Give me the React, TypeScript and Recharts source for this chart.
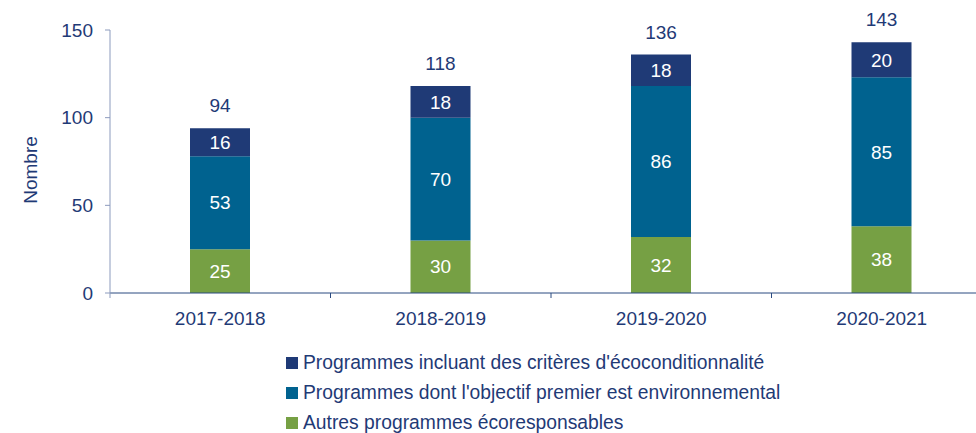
import React from "react";
import { BarChart, Bar, XAxis, YAxis, Legend, LabelList } from "recharts";

const years = ["2017-2018", "2018-2019", "2019-2020", "2020-2021"];
const autres = [25, 30, 32, 38];
const objectif = [53, 70, 86, 85];
const criteres = [16, 18, 18, 20];
const totals = [94, 118, 136, 143];
const yTicks = [0, 50, 100, 150];

const NAVY = "#1F3A76";
const TEAL = "#00628F";
const GREEN = "#76A044";
const TEXT = "#1F3A76";
const FONT = "'Liberation Sans', Arial, sans-serif";
const FS = 19;

const legendItems = [
  { label: "Programmes incluant des critères d'écoconditionnalité", color: NAVY },
  { label: "Programmes dont l'objectif premier est environnemental", color: TEAL },
  { label: "Autres programmes écoresponsables", color: GREEN },
];

const data = years.map((year, i) => ({
  year,
  autres: autres[i],
  objectif: objectif[i],
  criteres: criteres[i],
  total: totals[i],
}));

const CHART_W = 1000;
const CHART_H = 433;
const PLOT_LEFT = 110;
const PLOT_RIGHT = 8;
const HALF_BAND = (CHART_W - PLOT_LEFT - PLOT_RIGHT) / years.length / 2;

function XTick(props: any) {
  const { x, y, payload, index } = props;
  return (
    <g>
      <line x1={x + HALF_BAND} x2={x + HALF_BAND} y1={y} y2={y + 5} stroke="#2B4A80" />
      {index === 0 && (
        <line x1={x - HALF_BAND} x2={x - HALF_BAND} y1={y} y2={y + 5} stroke="#8C9BBD" />
      )}
      <text x={x} y={y + 32} textAnchor="middle" fill={TEXT} fontSize={FS} fontFamily={FONT}>
        {payload.value}
      </text>
    </g>
  );
}

function LegendContent() {
  return (
    <div style={{ fontFamily: FONT, fontSize: 19.3, color: TEXT }}>
      {legendItems.map((item) => (
        <div key={item.label} style={{ height: 30, display: "flex", alignItems: "center" }}>
          <span
            style={{
              display: "inline-block",
              width: 12,
              height: 12,
              background: item.color,
              marginRight: 5,
            }}
          />
          {item.label}
        </div>
      ))}
    </div>
  );
}

export default function App() {
  return (
    <div
      style={{
        position: "fixed",
        left: 0,
        top: 0,
        width: 976,
        height: 433,
        overflow: "hidden",
        background: "#fff",
      }}
    >
      <BarChart
        width={CHART_W}
        height={CHART_H}
        data={data}
        margin={{ top: 30, right: PLOT_RIGHT, left: 0, bottom: 20 }}
      >
        <XAxis
          dataKey="year"
          axisLine={{ stroke: "#2B4A80" }}
          tickLine={false}
          tickSize={0}
          tickMargin={0}
          height={30}
          tick={<XTick />}
          interval={0}
        />
        <YAxis
          domain={[0, 150]}
          ticks={yTicks}
          width={PLOT_LEFT}
          axisLine={{ stroke: "#8C9BBD" }}
          tickLine={{ stroke: "#8C9BBD" }}
          tickSize={5}
          tickMargin={12}
          tick={{ fill: TEXT, fontSize: FS, fontFamily: FONT }}
          label={{
            content: () => (
              <text
                x={37}
                y={170}
                transform="rotate(-90 37 170)"
                textAnchor="middle"
                fill={TEXT}
                fontSize={FS}
                fontFamily={FONT}
              >
                Nombre
              </text>
            ),
          }}
        />
        <Legend
          verticalAlign="bottom"
          content={<LegendContent />}
          wrapperStyle={{ left: 286, top: 348, width: "auto" }}
        />
        <Bar dataKey="autres" stackId="a" fill={GREEN} barSize={60} isAnimationActive={false}>
          <LabelList dataKey="autres" position="center" fill="#fff" fontSize={FS} fontFamily={FONT} />
        </Bar>
        <Bar dataKey="objectif" stackId="a" fill={TEAL} barSize={60} isAnimationActive={false}>
          <LabelList dataKey="objectif" position="center" fill="#fff" fontSize={FS} fontFamily={FONT} />
        </Bar>
        <Bar dataKey="criteres" stackId="a" fill={NAVY} barSize={60} isAnimationActive={false}>
          <LabelList dataKey="criteres" position="center" fill="#fff" fontSize={FS} fontFamily={FONT} />
          <LabelList
            dataKey="total"
            position="top"
            offset={16}
            fill={TEXT}
            fontSize={FS}
            fontFamily={FONT}
          />
        </Bar>
      </BarChart>
    </div>
  );
}
